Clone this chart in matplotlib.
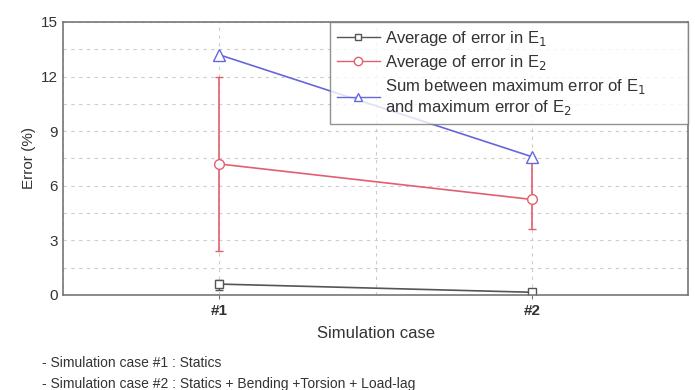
import matplotlib.pyplot as plt
from matplotlib.ticker import MultipleLocator
from matplotlib.lines import Line2D

plt.rcParams['font.family'] = ['Liberation Sans', 'DejaVu Sans']

cases = [1, 2]
case_labels = ['#1', '#2']
avg_e1 = [0.6, 0.15]
avg_e1_lo = [0.3, 0.1]
avg_e1_hi = [0.8, 0.2]
avg_e2 = [7.2, 5.25]
avg_e2_lo = [2.4, 3.6]
avg_e2_hi = [12.0, 7.5]
sum_max = [13.2, 7.6]

c_e1 = '#555555'
c_e2 = '#e06070'
c_sum = '#6666dd'

fig = plt.figure(figsize=(6.95, 3.9), dpi=100)
ax = fig.add_axes([0.0906, 0.2436, 0.8994, 0.7])

# error bars
e1_err = [[a - l for a, l in zip(avg_e1, avg_e1_lo)], [h - a for a, h in zip(avg_e1, avg_e1_hi)]]
e2_err = [[a - l for a, l in zip(avg_e2, avg_e2_lo)], [h - a for a, h in zip(avg_e2, avg_e2_hi)]]

ax.errorbar(cases, avg_e1, yerr=e1_err, color=c_e1, marker='s', mfc='white', ms=6,
            lw=1.2, capsize=3, elinewidth=1.0)
ax.errorbar(cases, avg_e2, yerr=e2_err, color=c_e2, marker='o', mfc='white', ms=7,
            lw=1.2, capsize=3, elinewidth=1.2)
ax.plot(cases, sum_max, color=c_sum, marker='^', mfc='white', ms=8, lw=1.2)

ax.set_xlim(0.5, 2.5)
ax.set_ylim(0, 15)
ax.set_xticks(cases)
ax.set_xticklabels(case_labels, fontsize=11, fontweight='bold', color='#333333')
ax.yaxis.set_major_locator(MultipleLocator(3))
ax.yaxis.set_minor_locator(MultipleLocator(1.5))
ax.xaxis.set_minor_locator(MultipleLocator(0.5))
ax.tick_params(axis='y', labelsize=11, colors='#333333', length=0)
ax.tick_params(axis='x', length=3, color='#777777')
ax.tick_params(which='minor', length=0)
ax.grid(True, which='both', linestyle=(0, (3, 4)), color='#cccccc', lw=0.8)
for s in ax.spines.values():
    s.set_color('#777777')
    s.set_linewidth(1.2)

ax.set_ylabel('Error (%)', fontsize=11, color='#333333')
ax.set_xlabel('Simulation case', fontsize=12, color='#333333', labelpad=6)

handles = [
    Line2D([0], [0], color=c_e1, marker='s', mfc='white', ms=5, lw=1.0),
    Line2D([0], [0], color=c_e2, marker='o', mfc='white', ms=6, lw=1.0),
    Line2D([0], [0], color=c_sum, marker='^', mfc='white', ms=6, lw=1.0),
]
labels = [r'Average of error in E$_1$', r'Average of error in E$_2$',
          'Sum between maximum error of E$_1$\nand maximum error of E$_2$']
leg = ax.legend(handles, labels, loc='upper right', bbox_to_anchor=(0.427, 0.0, 0.573, 1.0),
                mode='expand', fontsize=12, frameon=True, fancybox=False,
                edgecolor='#777777', handlelength=2.6, handletextpad=0.3,
                borderaxespad=0.0, labelspacing=0.3, borderpad=0.4)
leg.get_frame().set_linewidth(1.0)
for t in leg.get_texts():
    t.set_color('#333333')

fig.text(0.06, 0.06, '- Simulation case #1 : Statics', fontsize=10, color='#333333')
fig.text(0.06, 0.006, '- Simulation case #2 : Statics + Bending +Torsion + Load-lag',
         fontsize=10, color='#333333')

fig.savefig('out.png', dpi=100)
